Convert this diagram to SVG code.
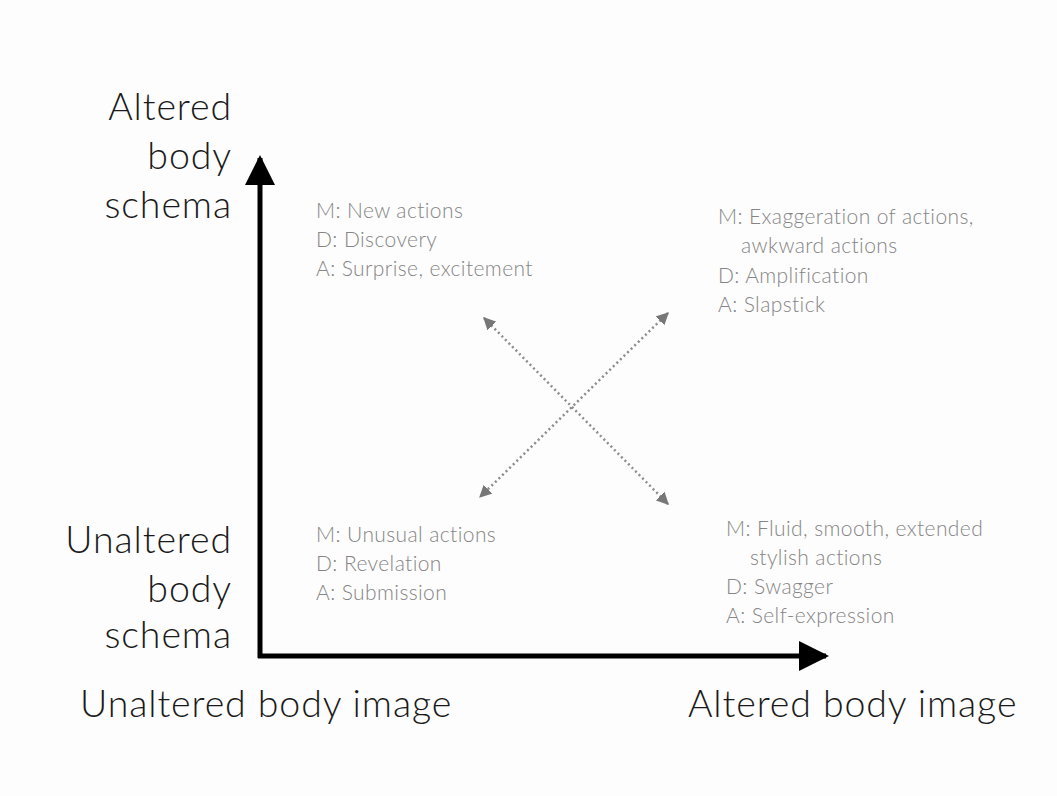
<svg xmlns="http://www.w3.org/2000/svg" width="1057" height="796" viewBox="0 0 1057 796">
<style>
.ax{font-family:Lato,"Open Sans","Liberation Sans",sans-serif;font-size:37.5px;fill:#1a1a1a;font-weight:300;letter-spacing:0.9px}
.q{font-family:Lato,"Open Sans","Liberation Sans",sans-serif;font-size:21px;fill:#858585;font-weight:300;letter-spacing:0.4px}
.axis{stroke:#000;stroke-width:5;fill:none}
.dot{stroke:#8c8c8c;stroke-width:2.5;stroke-dasharray:2 3;fill:none}
</style>
<defs>
<marker id="ah" viewBox="0 0 10 10" refX="9" refY="5" markerWidth="6" markerHeight="6" markerUnits="strokeWidth" orient="auto"><path d="M0,0 L10,5 L0,10 z" fill="#000"/></marker>
<marker id="dh" viewBox="0 0 10 10" refX="9" refY="5" markerWidth="5" markerHeight="5" markerUnits="strokeWidth" orient="auto-start-reverse"><path d="M0,0 L10,5 L0,10 z" fill="#777"/></marker>
</defs>
<rect width="1057" height="796" fill="#fdfdfd"/>
<g id="connectors">
<line class="axis" x1="260" y1="658" x2="260" y2="158" marker-end="url(#ah)"/>
<line class="axis" x1="258" y1="656" x2="826" y2="656" marker-end="url(#ah)"/>
<line class="dot" x1="484" y1="318" x2="668" y2="504" marker-start="url(#dh)" marker-end="url(#dh)"/>
<line class="dot" x1="668" y1="313" x2="480" y2="497" marker-start="url(#dh)" marker-end="url(#dh)"/>
</g>
<g id="y-top" class="ax" text-anchor="end">
<text x="232" y="120">Altered</text>
<text x="232" y="169">body</text>
<text x="232" y="218">schema</text>
</g>
<g id="y-bottom" class="ax" text-anchor="end">
<text x="232" y="553">Unaltered</text>
<text x="232" y="602">body</text>
<text x="232" y="648">schema</text>
</g>
<g id="x-left" class="ax"><text x="80" y="717">Unaltered body image</text></g>
<g id="x-right" class="ax"><text x="688" y="717">Altered body image</text></g>
<g id="q-top-left" class="q">
<text x="316" y="218">M: New actions</text>
<text x="316" y="247">D: Discovery</text>
<text x="316" y="276">A: Surprise, excitement</text>
</g>
<g id="q-top-right" class="q">
<text x="718" y="224">M: Exaggeration of actions,</text>
<text x="741" y="253">awkward actions</text>
<text x="718" y="283">D: Amplification</text>
<text x="718" y="312">A: Slapstick</text>
</g>
<g id="q-bottom-left" class="q">
<text x="316" y="542">M: Unusual actions</text>
<text x="316" y="571">D: Revelation</text>
<text x="316" y="600">A: Submission</text>
</g>
<g id="q-bottom-right" class="q">
<text x="726" y="536">M: Fluid, smooth, extended</text>
<text x="750" y="565">stylish actions</text>
<text x="726" y="594">D: Swagger</text>
<text x="726" y="623">A: Self-expression</text>
</g>
</svg>
